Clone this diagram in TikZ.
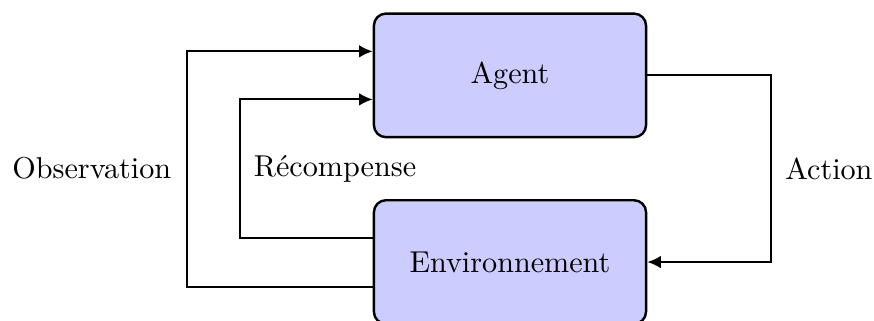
\documentclass[tikz,border=0pt]{standalone}
\usetikzlibrary{positioning,arrows.meta}
\tikzset{
  flowarrow/.style={-{Latex[length=4.5pt,width=4.2pt]}, line width=0.7pt},
  blockbox/.style={draw, rounded corners, thick, fill=blue!20, minimum width=3.17cm, minimum height=1.44cm, align=center},
  looplabel/.style={inner sep=0pt}
}

\begin{document}
\begin{tikzpicture}
  \useasboundingbox (0,0) rectangle (10.18,3.728);
  \node[blockbox] (agent) at (5.94,2.85) {Agent};
  \node[blockbox] (env) at (5.94,0.676) {Environnement};
  % turning points of the three loops
  \coordinate (obsbot) at (2.18,0.384);
  \coordinate (obstop) at (2.18,3.13);
  \coordinate (rewbot) at (2.80,0.955);
  \coordinate (rewtop) at (2.80,2.57);
  \coordinate (acttop) at (8.98,2.85);
  \coordinate (actbot) at (8.98,0.676);
  \draw[flowarrow] (env.west |- obsbot) -- (obsbot) -- (obstop) -- (agent.west |- obstop);
  \draw[flowarrow] (env.west |- rewbot) -- (rewbot) -- (rewtop) -- (agent.west |- rewtop);
  \draw[flowarrow] (agent.east) -- (acttop) -- (actbot) -- (env.east);
  % labels
  \node[looplabel, anchor=east] (obslabel) at (2.0,1.765) {Observation};
  \node[looplabel, anchor=west] (rewlabel) at (2.95,1.765) {Récompense};
  \node[looplabel, anchor=west] (actlabel) at (9.14,1.765) {Action};
\end{tikzpicture}
\end{document}
